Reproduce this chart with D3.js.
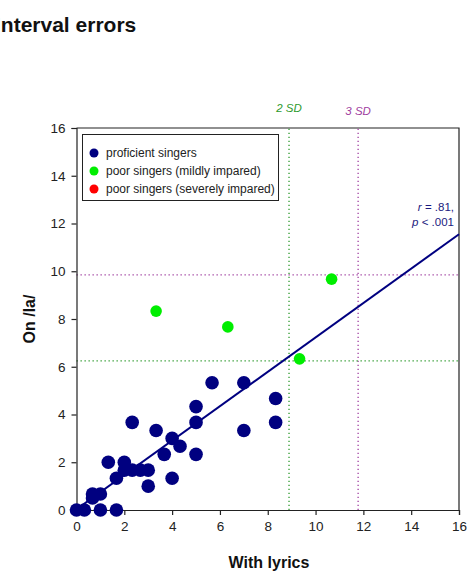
<!DOCTYPE html>
<html>
<head>
<meta charset="utf-8">
<script src="https://cdn.jsdelivr.net/npm/d3@7"></script>
<style>
  html, body { margin: 0; padding: 0; background: #fff; }
  svg { display: block; font-family: "Liberation Sans", Arial, sans-serif; }
</style>
</head>
<body>
<svg id="chart" width="470" height="573"></svg>
<script>
// Interval errors: with lyrics vs. on /la/
const proficientX = [0, 0.33, 1, 1.67, 0.67, 1, 0.67, 1.33, 1.67, 2, 2, 2.33, 2.67, 3, 2.33, 3, 3.33, 3.67, 4, 4, 4.33, 5, 5, 5, 5.67, 7, 7, 8.33, 8.33];
const proficientY = [0, 0, 0, 0, 0.67, 0.67, 0.5, 2, 1.33, 2, 1.67, 1.67, 1.67, 1.67, 3.67, 1, 3.33, 2.33, 3, 1.33, 2.67, 4.33, 3.67, 2.33, 5.33, 5.33, 3.33, 4.67, 3.67];
const mildX = [3.33, 6.33, 9.33, 10.67];
const mildY = [8.33, 7.67, 6.33, 9.67];
const legendLabels = ["proficient singers", "poor singers (mildly impared)", "poor singers (severely impared)"];
const legendColors = ["#000080", "#00ee00", "#ff0000"];
const axisTicks = [0, 2, 4, 6, 8, 10, 12, 14, 16];
const sdX = [8.89, 11.78];
const sdY = [6.25, 9.85];
const sdLabels = ["2 SD", "3 SD"];
const sdColors = ["#2e9a2e", "#a040a0"];
const fitSlope = 0.72;
const fitIntercept = 0.03;
const statLines = [["r", " = .81,"], ["p", " < .001"]];

const svg = d3.select("#chart");
const x = d3.scaleLinear().domain([0, 16]).range([76.5, 459]);
const y = d3.scaleLinear().domain([0, 16]).range([510, 128]);

// title (runs off the left edge)
svg.append("text").attr("x", -5).attr("y", 32)
  .attr("font-size", 21).attr("font-weight", "bold").attr("fill", "#111")
  .text("Interval errors");

// frame (top and right)
svg.append("path")
  .attr("d", `M${x(0)},${y(16)}H${x(16)}V${y(0)}`)
  .attr("fill", "none").attr("stroke", "#222").attr("stroke-width", 1.2);

// SD reference lines
sdX.forEach((v, i) => {
  svg.append("line").attr("x1", x(v)).attr("x2", x(v)).attr("y1", y(0)).attr("y2", y(16))
    .attr("stroke", sdColors[i]).attr("stroke-width", 1.3).attr("stroke-dasharray", "1.3,2.7");
  svg.append("text").attr("x", x(v)).attr("y", i === 0 ? 112 : 115)
    .attr("text-anchor", "middle").attr("font-size", 11.5).attr("font-style", "italic")
    .attr("fill", sdColors[i]).text(sdLabels[i]);
});
sdY.forEach((v, i) => {
  svg.append("line").attr("x1", x(0)).attr("x2", x(16)).attr("y1", y(v)).attr("y2", y(v))
    .attr("stroke", sdColors[i]).attr("stroke-width", 1.3).attr("stroke-dasharray", "1.3,2.7");
});

// axes
const xAxis = svg.append("g").attr("transform", `translate(0,${y(0)})`)
  .call(d3.axisBottom(x).tickValues(axisTicks).tickSize(5).tickPadding(6));
const yAxis = svg.append("g").attr("transform", `translate(${x(0)},0)`)
  .call(d3.axisLeft(y).tickValues(axisTicks).tickSize(5).tickPadding(6));
[xAxis, yAxis].forEach(g => {
  g.selectAll("path, line").attr("stroke", "#222").attr("stroke-width", 1.2);
  g.selectAll("text").attr("font-size", 13.5).attr("fill", "#222")
    .attr("font-family", "'Liberation Sans', Arial, sans-serif");
});

// axis titles
svg.append("text").attr("x", 269).attr("y", 568).attr("text-anchor", "middle")
  .attr("font-size", 16).attr("font-weight", "bold").attr("fill", "#111").text("With lyrics");
svg.append("text").attr("transform", `translate(35,${y(8)}) rotate(-90)`).attr("text-anchor", "middle")
  .attr("font-size", 16).attr("font-weight", "bold").attr("fill", "#111").text("On /la/");

// regression line
svg.append("line")
  .attr("x1", x(0)).attr("y1", y(fitIntercept))
  .attr("x2", x(16)).attr("y2", y(fitIntercept + fitSlope * 16))
  .attr("stroke", "#000080").attr("stroke-width", 2);

// stats
statLines.forEach((s, i) => {
  const t = svg.append("text").attr("x", 454).attr("y", 211 + i * 14.5)
    .attr("text-anchor", "end").attr("font-size", 11.5).attr("fill", "#1a1a80");
  t.append("tspan").attr("font-style", "italic").text(s[0]);
  t.append("tspan").text(s[1]);
});

// points
svg.append("g").selectAll("circle").data(d3.zip(proficientX, proficientY)).join("circle")
  .attr("cx", d => x(d[0])).attr("cy", d => y(d[1])).attr("r", 6.8).attr("fill", legendColors[0]);
svg.append("g").selectAll("circle").data(d3.zip(mildX, mildY)).join("circle")
  .attr("cx", d => x(d[0])).attr("cy", d => y(d[1])).attr("r", 5.8).attr("fill", legendColors[1]);

// legend
const lg = svg.append("g");
lg.append("rect").attr("x", 82.5).attr("y", 134.5).attr("width", 196).attr("height", 66)
  .attr("fill", "#fff").attr("stroke", "#222").attr("stroke-width", 1);
legendLabels.forEach((lab, i) => {
  lg.append("circle").attr("cx", 94).attr("cy", 153 + i * 18).attr("r", 4.5).attr("fill", legendColors[i]);
  lg.append("text").attr("x", 106).attr("y", 157 + i * 18).attr("font-size", 12)
    .attr("fill", "#222").text(lab);
});
</script>
</body>
</html>
